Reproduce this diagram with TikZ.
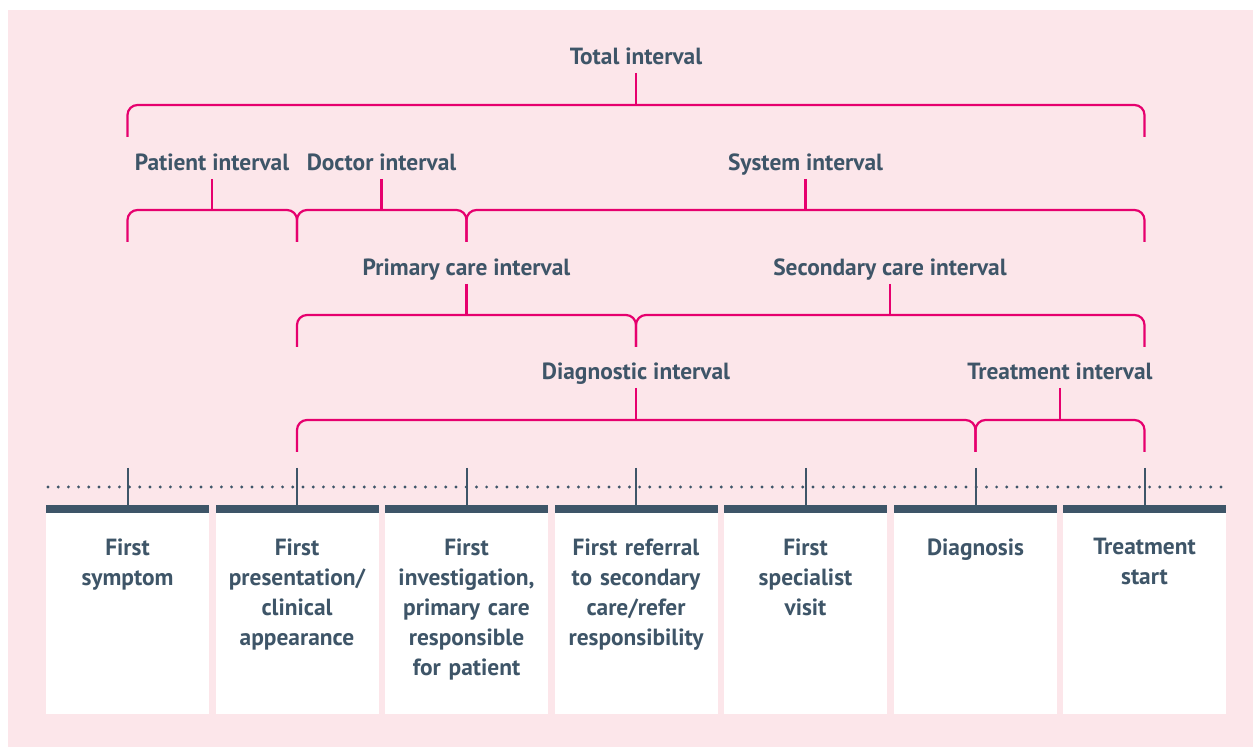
\documentclass[tikz,border=0pt]{standalone}
\usepackage{fontspec}
\setmainfont{PT Sans}
\definecolor{slate}{RGB}{62,85,104}
\definecolor{bracepink}{RGB}{230,0,110}
\definecolor{bgpink}{RGB}{252,230,234}

\begin{document}
\begin{tikzpicture}[x=0.5pt,y=-0.5pt,
        brace/.style={draw=bracepink,line width=1.1pt,rounded corners=5pt},
        tick/.style={draw=slate,line width=1pt},
        lbl/.style={anchor=base,inner sep=0pt,text=slate,font=\fontsize{11.7}{15}\selectfont\bfseries},
        event/.style={anchor=north,inner sep=0pt,text=slate,align=center,text width=78pt,
            font=\fontsize{11.7}{15}\selectfont\bfseries}]
        \useasboundingbox (0,0) rectangle (1253,747);
        \fill[white] (0,0) rectangle (1253,747);
        \fill[bgpink] (8,10) rectangle (1253,747);

        \coordinate (t1) at (127.5,487);
        \coordinate (t2) at (297,487);
        \coordinate (t3) at (466.5,487);
        \coordinate (t4) at (636,487);
        \coordinate (t5) at (805.5,487);
        \coordinate (t6) at (975.5,487);
        \coordinate (t7) at (1144.5,487);

        \draw[slate,line width=1.6pt,line cap=round,dash pattern=on 0pt off 5.1pt] (48,487) -- (1228,487);
        \draw[tick] (t1 |- 0,468) -- (t1 |- 0,505);
        \draw[tick] (t2 |- 0,468) -- (t2 |- 0,505);
        \draw[tick] (t3 |- 0,468) -- (t3 |- 0,505);
        \draw[tick] (t4 |- 0,468) -- (t4 |- 0,505);
        \draw[tick] (t5 |- 0,468) -- (t5 |- 0,505);
        \draw[tick] (t6 |- 0,468) -- (t6 |- 0,505);
        \draw[tick] (t7 |- 0,468) -- (t7 |- 0,505);

        \fill[white] (46,513) rectangle ++(163,201);
        \fill[white] (215.5,513) rectangle ++(163,201);
        \fill[white] (385,513) rectangle ++(163,201);
        \fill[white] (554.5,513) rectangle ++(163,201);
        \fill[white] (724,513) rectangle ++(163,201);
        \fill[white] (894,513) rectangle ++(163,201);
        \fill[white] (1063,513) rectangle ++(163,201);
        \fill[slate] (46,505) rectangle ++(163,8);
        \fill[slate] (215.5,505) rectangle ++(163,8);
        \fill[slate] (385,505) rectangle ++(163,8);
        \fill[slate] (554.5,505) rectangle ++(163,8);
        \fill[slate] (724,505) rectangle ++(163,8);
        \fill[slate] (894,505) rectangle ++(163,8);
        \fill[slate] (1063,505) rectangle ++(163,8);

        \node[event] (e1) at (127.5,538) {First\\symptom};
        \node[event] (e2) at (297,538) {First\\presentation/\\clinical\\appearance};
        \node[event] (e3) at (466.5,538) {First\\investigation,\\primary care\\responsible\\for patient};
        \node[event] (e4) at (636,538) {First referral\\to secondary\\care/refer\\responsibility};
        \node[event] (e5) at (805.5,538) {First\\specialist\\visit};
        \node[event] (e6) at (975.5,538) {Diagnosis};
        \node[event] (e7) at (1144.5,538) {Treatment\\start};

        \node[lbl] (total) at (636,65) {Total interval};
        \draw[brace] (t1 |- 0,137) -- (t1 |- 0,105) -- (t7 |- 0,105) -- (t7 |- 0,137);
        \draw[brace] (total.base) ++(0,8) -- (total.base |- 0,105);

        \node[lbl] (patient) at (212,171) {Patient interval};
        \node[lbl] (doctor) at (381.5,171) {Doctor interval};
        \node[lbl] (system) at (805.5,171) {System interval};
        \draw[brace] (t1 |- 0,242) -- (t1 |- 0,210) -- (t2 |- 0,210) -- (t2 |- 0,242);
        \draw[brace] (t2 |- 0,242) -- (t2 |- 0,210) -- (t3 |- 0,210) -- (t3 |- 0,242);
        \draw[brace] (t3 |- 0,242) -- (t3 |- 0,210) -- (t7 |- 0,210) -- (t7 |- 0,242);
        \draw[brace] (patient.base) ++(0,8) -- (patient.base |- 0,210);
        \draw[brace] (doctor.base) ++(0,8) -- (doctor.base |- 0,210);
        \draw[brace] (system.base) ++(0,8) -- (system.base |- 0,210);

        \node[lbl] (primary) at (466.5,276) {Primary care interval};
        \node[lbl] (secondary) at (890,276) {Secondary care interval};
        \draw[brace] (t2 |- 0,347) -- (t2 |- 0,315) -- (t4 |- 0,315) -- (t4 |- 0,347);
        \draw[brace] (t4 |- 0,347) -- (t4 |- 0,315) -- (t7 |- 0,315) -- (t7 |- 0,347);
        \draw[brace] (primary.base) ++(0,8) -- (primary.base |- 0,315);
        \draw[brace] (secondary.base) ++(0,8) -- (secondary.base |- 0,315);

        \node[lbl] (diagnostic) at (636,380) {Diagnostic interval};
        \node[lbl] (treatment) at (1060,380) {Treatment interval};
        \draw[brace] (t2 |- 0,452) -- (t2 |- 0,420) -- (t6 |- 0,420) -- (t6 |- 0,452);
        \draw[brace] (t6 |- 0,452) -- (t6 |- 0,420) -- (t7 |- 0,420) -- (t7 |- 0,452);
        \draw[brace] (diagnostic.base) ++(0,8) -- (diagnostic.base |- 0,420);
        \draw[brace] (treatment.base) ++(0,8) -- (treatment.base |- 0,420);
    \end{tikzpicture}
\end{document}
